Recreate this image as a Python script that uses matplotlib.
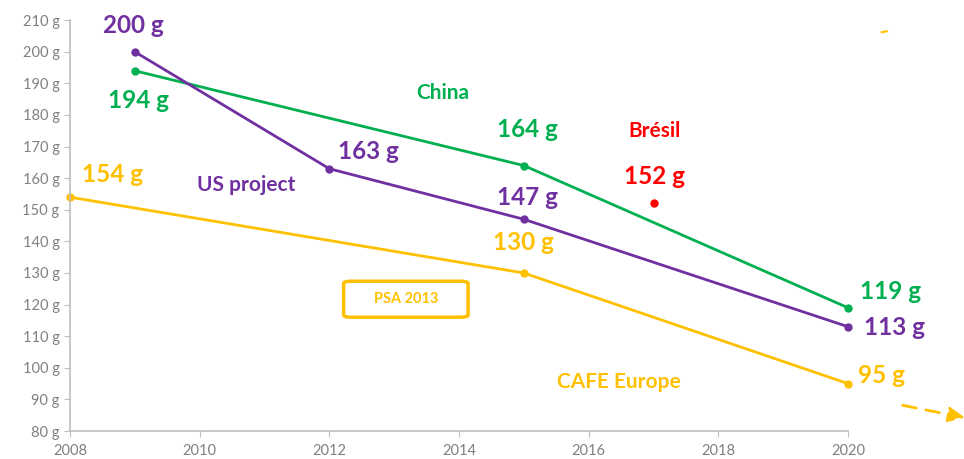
import matplotlib.pyplot as plt
from matplotlib.patches import FancyBboxPatch

plt.rcParams['font.family'] = ['Lato', 'DejaVu Sans']

# data
china_years = [2009, 2015, 2020]
china_g = [194, 164, 119]
us_years = [2009, 2012, 2015, 2020]
us_g = [200, 163, 147, 113]
eu_years = [2008, 2015, 2020]
eu_g = [154, 130, 95]
bresil_year = [2017]
bresil_g = [152]

yticks = list(range(80, 211, 10))
xticks = [2008, 2010, 2012, 2014, 2016, 2018, 2020]

GREEN = '#00B050'
PURPLE = '#7030A0'
YELLOW = '#FFC000'
RED = '#FF0000'
GREY = '#808080'

fig = plt.figure(figsize=(9.64, 4.59), dpi=100)
ax = fig.add_axes([0.0726, 0.061, 0.8071, 0.895])

ax.plot(china_years, china_g, color=GREEN, lw=2, marker='o', ms=5, clip_on=False)
ax.plot(us_years, us_g, color=PURPLE, lw=2, marker='o', ms=5, clip_on=False)
ax.plot(eu_years, eu_g, color=YELLOW, lw=2, marker='o', ms=5, clip_on=False)
ax.plot(bresil_year, bresil_g, color=RED, marker='o', ms=5, ls='none')

ax.set_xlim(2008, 2020)
ax.set_ylim(80, 210)
ax.set_xticks(xticks)
ax.set_yticks(yticks)
ax.set_yticklabels(['%d g' % v for v in yticks])
for s in ['top', 'right']:
    ax.spines[s].set_visible(False)
for s in ['left', 'bottom']:
    ax.spines[s].set_color('#BFBFBF')
    ax.spines[s].set_linewidth(1.2)
ax.tick_params(colors='#BFBFBF', labelcolor=GREY, labelsize=10.5, length=4)
ax.tick_params(axis='x', labelsize=10.5, pad=5)

big = dict(fontsize=17.5, fontweight='bold', ha='center', va='center')
# value labels
ax.text(2008.97, 208.2, '%d g' % us_g[0], color=PURPLE, clip_on=False, **big)
ax.text(2009.05, 184.7, '%d g' % china_g[0], color=GREEN, **big)
ax.text(2015.06, 175.3, '%d g' % china_g[1], color=GREEN, **big)
ax.text(2017.02, 160.4, '%d g' % bresil_g[0], color=RED, **big)
ax.text(2012.6, 168.6, '%d g' % us_g[1], color=PURPLE, **big)
ax.text(2015.06, 154.0, '%d g' % us_g[2], color=PURPLE, **big)
ax.text(2008.66, 161.3, '%d g' % eu_g[0], color=YELLOW, **big)
ax.text(2015.0, 139.5, '%d g' % eu_g[1], color=YELLOW, **big)
ax.text(2020.65, 124.3, '%d g' % china_g[2], color=GREEN, clip_on=False, **big)
ax.text(2020.72, 112.9, '%d g' % us_g[3], color=PURPLE, clip_on=False, **big)
ax.text(2020.52, 97.7, '%d g' % eu_g[2], color=YELLOW, clip_on=False, **big)

# series names
mid = dict(fontsize=15, fontweight='bold', ha='center', va='center')
ax.text(2013.75, 187.0, 'China', color=GREEN, **mid)
ax.text(2017.02, 174.9, 'Brésil', color=RED, **mid)
ax.text(2010.71, 157.8, 'US project', color=PURPLE, **mid)
ax.text(2016.47, 95.5, 'CAFE Europe', color=YELLOW, **mid)

# PSA box
box = FancyBboxPatch((2012.22, 116.0), 1.92, 11.4,
                     boxstyle='round,pad=0,rounding_size=0.12',
                     fc='white', ec=YELLOW, lw=2.5, mutation_aspect=6)
ax.add_patch(box)
ax.text(2013.18, 121.7, 'PSA 2013', color=YELLOW, fontsize=10.5,
        fontweight='bold', ha='center', va='center')

# dashed trend arrow beyond 2020
ax.annotate('', xy=(2021.85, 84.0), xytext=(2020.8, 88.3),
            annotation_clip=False,
            arrowprops=dict(arrowstyle='-|>,head_length=1.0,head_width=0.45',
                            color=YELLOW, lw=2, ls=(0, (5, 3.5))))

# small yellow mark at top right
ax.plot([2020.52, 2020.6], [206.2, 206.5], color=YELLOW, lw=1.5, clip_on=False)

fig.savefig('out.png', dpi=100)
